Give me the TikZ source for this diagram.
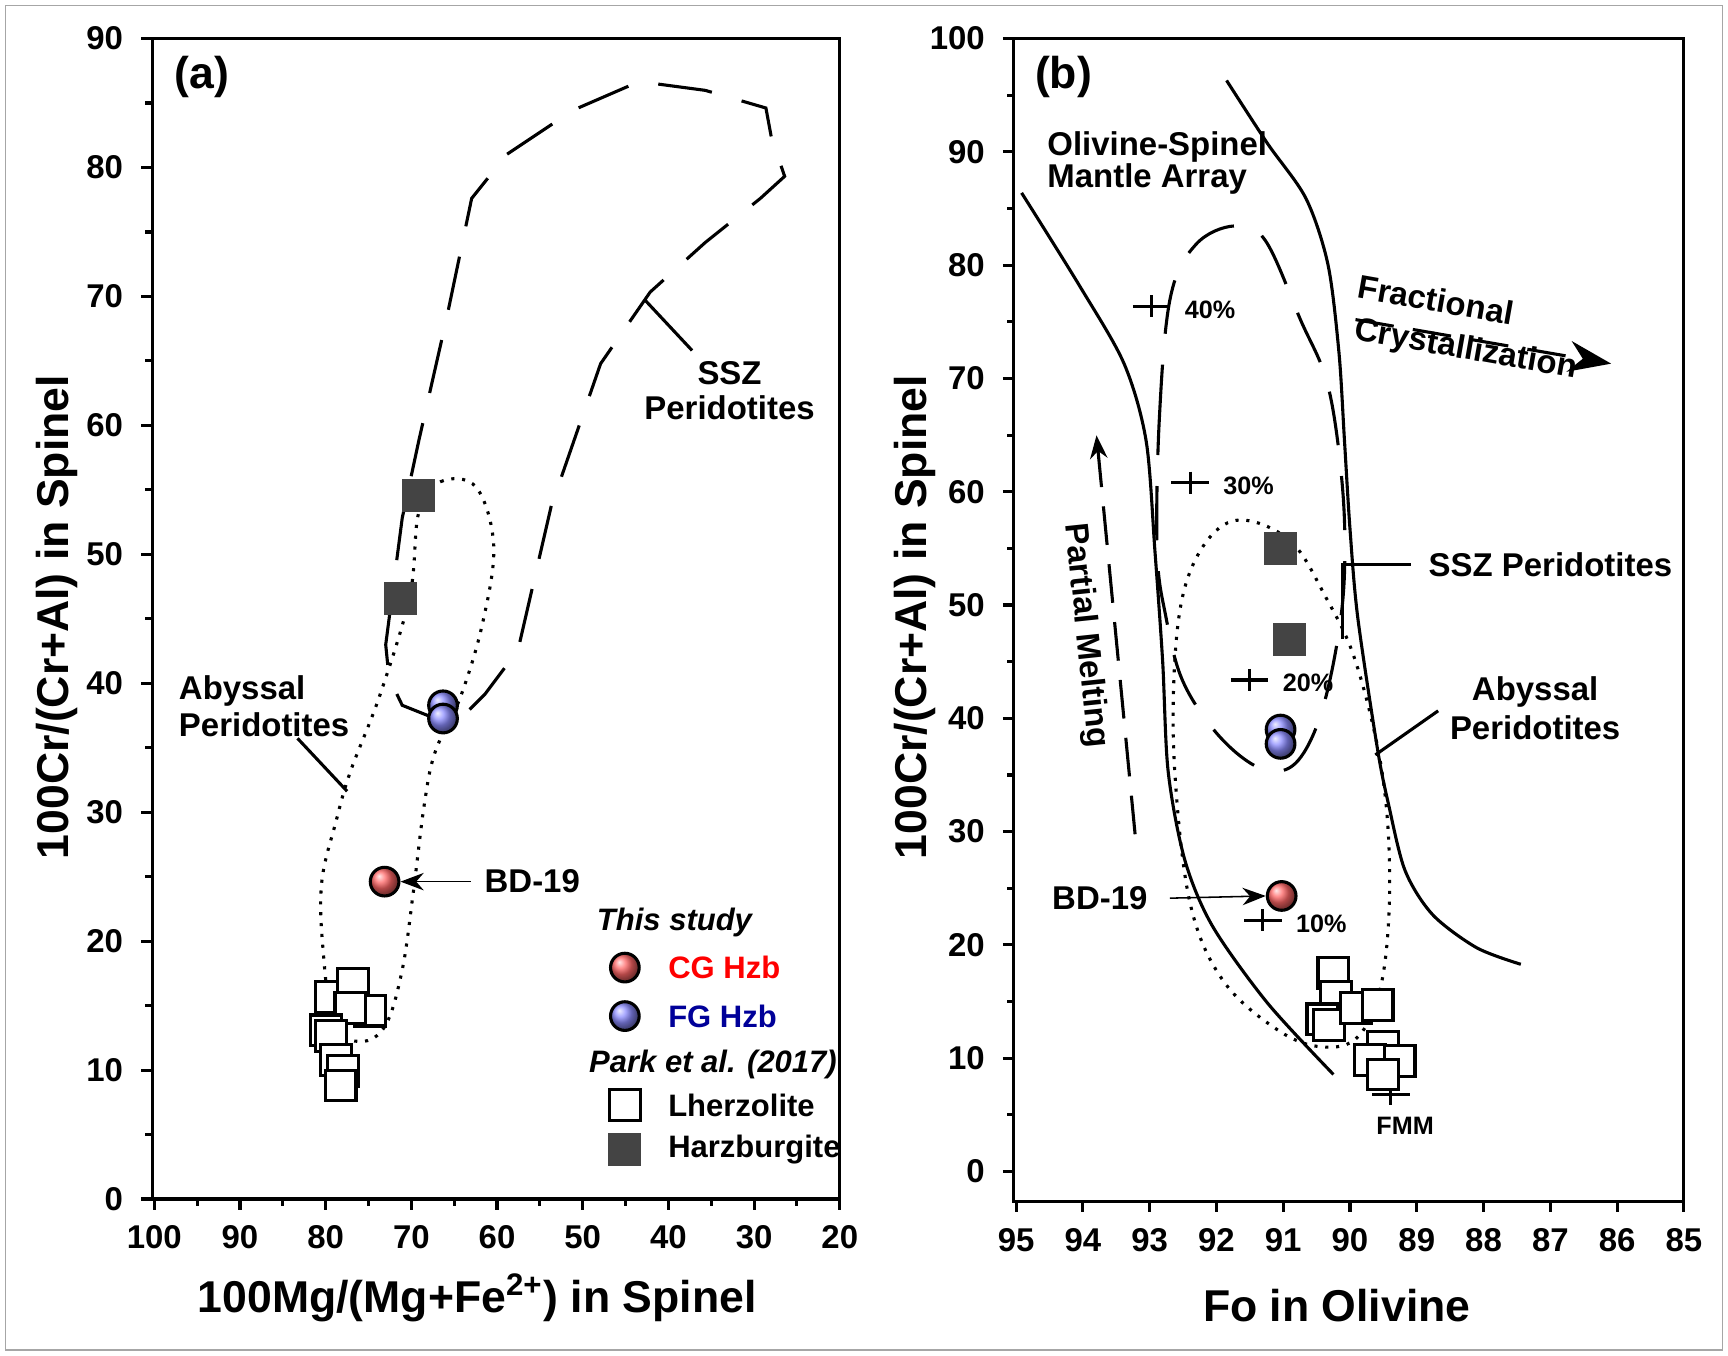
\documentclass[tikz,border=0pt]{standalone}
\usepackage{fontspec}
\setmainfont{Liberation Sans}
\usetikzlibrary{arrows.meta}
\definecolor{harz}{HTML}{444444}
\tikzset{
  lbl/.style={font=\bfseries\fontsize{8.5}{10}\selectfont},
  leg/.style={font=\bfseries\fontsize{8}{10}\selectfont},
  tick/.style={font=\bfseries\fontsize{8.5}{10}\selectfont},
  ttl/.style={font=\bfseries\fontsize{11.5}{14}\selectfont},
  pct/.style={font=\bfseries\fontsize{6.5}{8}\selectfont, anchor=west},
  lz/.style={draw, thick, fill=white, minimum size=0.28cm, inner sep=0pt},
  hz/.style={fill=harz, minimum size=0.3cm, inner sep=0pt},
  redb/.style={circle, draw=black, thick, inner sep=0pt, minimum size=0.26cm, ball color=red!60},
  blueb/.style={circle, draw=black, thick, inner sep=0pt, minimum size=0.26cm, ball color=blue!45},
  field/.style={thick, dash pattern=on 14pt off 8pt},
  arr/.style={-{Stealth[length=6pt]}},
}
\begin{document}
\begin{tikzpicture}[x=0.01cm, y=-0.01cm]
    \useasboundingbox (0,0) rectangle (1568,1230);
    \draw[gray!70] (5,5) rectangle (1563,1225);

    % Panel (a) frame and ticks
    \draw[thick] (138,35) rectangle (762,1088);
    \foreach \k in {0,...,9}
        \draw[thick] (128,{1088-117*\k}) -- (138,{1088-117*\k});
    \foreach \k in {0,...,8}
        \draw[thick] (132,{1088-117*\k-58.5}) -- (138,{1088-117*\k-58.5});
    \foreach \k [evaluate=\k as \v using int(10*\k)] in {0,...,9}
        \node[tick, anchor=east] at (124,{1088-117*\k}) {\v};
    \foreach \k [evaluate=\k as \v using int(100-10*\k)] in {0,...,8} {
        \draw[thick] ({140+77.75*\k},1088) -- ({140+77.75*\k},1098);
        \node[tick] at ({140+77.75*\k},1123) {\v};
    }
    \foreach \k in {0,...,7}
        \draw[thick] ({140+77.75*\k+38.9},1088) -- ({140+77.75*\k+38.9},1094);
    \node[ttl, rotate=90] at (52,560) {100Cr/(Cr+Al) in Spinel};
    \node[ttl] at (433,1178) {100Mg/(Mg+Fe\textsuperscript{2+}) in Spinel};
    \node[ttl] at (183,70) {(a)};

    % SSZ field (a)
    \draw[field] (350,585) -- (365,470) -- (380,400) -- (405,290) -- (428,180) -- (460,140)
        -- (520,100) -- (580,74) -- (640,82) -- (695,98) -- (700,125) -- (712,160) -- (690,180)
        -- (640,220) -- (590,265) -- (545,330) -- (500,460) -- (470,590) -- (440,630)
        -- (420,650) -- (395,652) -- (365,640) -- (353,615) -- cycle;
    \draw[thick] (585,272) -- (628,318);
    \node[lbl] at (662,339) {SSZ};
    \node[lbl] at (662,370) {Peridotites};

    % Abyssal field (a)
    \draw[thick, dotted] plot[smooth cycle, tension=0.6] coordinates {(380,465) (400,437) (432,442)
        (448,495) (438,565) (418,632) (395,682) (385,730) (375,810) (365,880) (350,930)
        (328,945) (303,930) (293,860) (292,800) (305,745) (318,700) (345,630) (372,540)};
    \draw[thick] (270,670) -- (315,718);
    \node[lbl, anchor=west] at (150,627) {Abyssal};
    \node[lbl, anchor=west] at (150,658) {Peridotites};

    % samples (a)
    \node[hz] (ha1) at (380,450) {};
    \node[hz] (ha2) at (363,543) {};
    \foreach \p [count=\i] in {(300,905),(320,893),(336,917),(318,915),(296,935),(300,940),(305,962),(311,972),(309,985)}
        \node[lz] (la\i) at \p {};
    \node[blueb] (fa1) at (402,640) {};
    \node[blueb] (fa2) at (402,652) {};
    \node[redb] (ca) at (349,800) {};
    \node[lbl] (bda) at (483,800) {BD-19};
    \draw[arr] (bda.west) -- (ca.east);

    % legend
    \node[leg, font=\bfseries\itshape\fontsize{8}{10}\selectfont] at (612,837) {This study};
    \node[redb] (lg1) at (567,878) {};
    \node[leg, text=red, anchor=west] at (594,878) {CG Hzb};
    \node[blueb] (lg2) at (567,922) {};
    \node[leg, text=blue!60!black, anchor=west] at (594,922) {FG Hzb};
    \node[leg, font=\bfseries\itshape\fontsize{8}{10}\selectfont] at (647,966) {Park et al. (2017)};
    \node[lz] (lg3) at (567,1003) {};
    \node[leg, anchor=west] at (594,1003) {Lherzolite};
    \node[hz] (lg4) at (567,1043) {};
    \node[leg, anchor=west] at (594,1043) {Harzburgite};

    % Panel (b) frame and ticks
    \draw[thick] (920,35) rectangle (1528,1090);
    \foreach \k [evaluate=\k as \v using int(10*\k)] in {0,...,10} {
        \draw[thick] (910,{1063-102.8*\k}) -- (920,{1063-102.8*\k});
        \node[tick, anchor=east] at (906,{1063-102.8*\k}) {\v};
    }
    \foreach \k in {0,...,9}
        \draw[thick] (914,{1063-102.8*\k-51.4}) -- (920,{1063-102.8*\k-51.4});
    \foreach \k [evaluate=\k as \v using int(95-\k)] in {0,...,10} {
        \draw[thick] ({922+60.6*\k},1090) -- ({922+60.6*\k},1100);
        \node[tick] at ({922+60.6*\k},1125) {\v};
    }
    \node[ttl, rotate=90] at (830,560) {100Cr/(Cr+Al) in Spinel};
    \node[ttl] at (1213,1185) {Fo in Olivine};
    \node[ttl] at (965,70) {(b)};

    % mantle array
    \draw[thick] plot[smooth, tension=0.5] coordinates {(927,175) (980,260) (1020,330) (1040,400)
        (1048,500) (1055,600) (1060,700) (1075,780) (1100,840) (1150,910) (1210,975)};
    \draw[thick] plot[smooth, tension=0.5] coordinates {(1113,73) (1150,130) (1185,180) (1205,240)
        (1215,320) (1220,400) (1225,480) (1232,560) (1250,680) (1260,730) (1275,790)
        (1300,830) (1340,860) (1380,875)};
    \node[lbl, anchor=west] at (938,133) {Olivine-Spinel};
    \node[lbl, anchor=west] at (938,162) {Mantle Array};

    % SSZ field (b)
    \draw[field] plot[smooth cycle, tension=0.6] coordinates {(1050,500) (1052,380) (1062,270)
        (1085,222) (1120,205) (1148,218) (1180,290) (1205,350) (1218,440) (1220,520)
        (1213,585) (1198,650) (1178,690) (1155,700) (1128,688) (1098,658) (1072,615) (1058,560)};
    \draw[thick] (1218,580) -- (1218,512) -- (1280,512);
    \node[lbl, anchor=west] at (1284,512) {SSZ Peridotites};

    % Abyssal field (b)
    \draw[thick, dotted] plot[smooth cycle, tension=0.6] coordinates {(1130,472) (1172,492)
        (1202,540) (1230,600) (1254,700) (1261,800) (1254,890) (1233,940) (1200,950)
        (1160,935) (1110,890) (1080,820) (1066,700) (1066,600) (1076,530) (1100,485)};
    \draw[thick] (1248,685) -- (1305,645);
    \node[lbl] at (1393,628) {Abyssal};
    \node[lbl] at (1393,660) {Peridotites};

    % melting model
    \foreach \p/\t in {{(1045,278)}/40\%, {(1080,438)}/30\%, {(1134,617)}/20\%, {(1146,835)}/10\%}
        \draw[thick] \p ++(-17,0) -- ++(34,0) \p ++(0,-10) -- ++(0,20) \p ++(17,3) node[pct] {\t};
    \draw[thick] (1262,993) ++(-17,0) -- ++(34,0) (1262,993) ++(0,-10) -- ++(0,20);
    \node[pct, anchor=center] at (1275,1022) {FMM};

    % samples (b)
    \node[hz] (hb1) at (1162,498) {};
    \node[hz] (hb2) at (1170,580) {};
    \foreach \p [count=\i] in {(1210,883),(1212,905),(1200,925),(1206,930),(1230,915),(1250,912),(1255,950),(1243,962),(1270,963),(1255,975)}
        \node[lz] (lb\i) at \p {};
    \node[blueb] (fb1) at (1162,662) {};
    \node[blueb] (fb2) at (1162,675) {};
    \node[redb] (cb) at (1163,813) {};
    \node[lbl] (bdb) at (998,815) {BD-19};
    \draw[arr] (bdb.east) ++(8,0) -- (cb.west);

    % trend arrows
    \coordinate (pm0) at (1030,757);
    \coordinate (pm1) at (995,395);
    \draw[thick, dash pattern=on 10pt off 5pt, arr] (pm0) -- (pm1);
    \node[lbl, rotate=-84] at (985,577) {Partial Melting};
    \coordinate (fc0) at (1230,290);
    \coordinate (fc1) at (1462,330);
    \draw[thick, dash pattern=on 10pt off 5pt, -{Stealth[length=11pt, width=8pt]}] (fc0) -- (fc1);
    \node[lbl, rotate=-10, inner sep=1pt] at (1303,272) {Fractional};
    \node[lbl, rotate=-10, inner sep=1pt] at (1330,318) {Crystallization};
\end{tikzpicture}
\end{document}
